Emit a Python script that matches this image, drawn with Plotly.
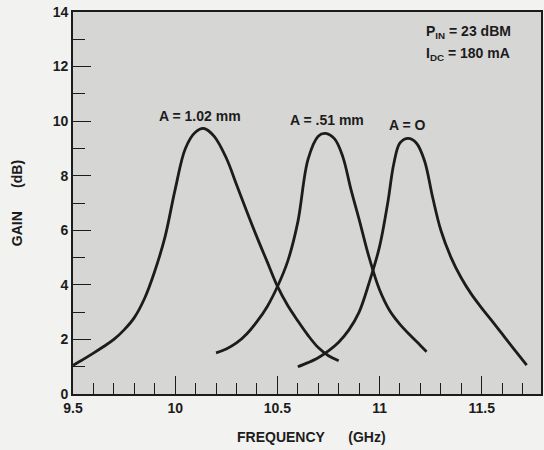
import plotly.graph_objects as go

# ---- data ----
freq_a102 = [9.50, 9.55, 9.60, 9.65, 9.70, 9.75, 9.80, 9.85, 9.90, 9.95, 10.00, 10.05,
             10.10, 10.14, 10.19, 10.25, 10.30, 10.35, 10.40, 10.45, 10.50, 10.55,
             10.60, 10.65, 10.70, 10.75, 10.80]
gain_a102 = [1.05, 1.27, 1.50, 1.74, 2.00, 2.35, 2.80, 3.50, 4.50, 5.75, 7.50, 9.00,
             9.60, 9.73, 9.45, 8.65, 7.68, 6.70, 5.75, 4.85, 3.95, 3.25,
             2.68, 2.15, 1.70, 1.40, 1.22]

freq_a051 = [10.20, 10.25, 10.30, 10.35, 10.40, 10.45, 10.50, 10.55, 10.60, 10.65,
             10.70, 10.735, 10.78, 10.82, 10.86, 10.90, 10.95, 11.00, 11.05, 11.10,
             11.15, 11.20, 11.23]
gain_a051 = [1.51, 1.65, 1.87, 2.20, 2.65, 3.20, 3.93, 4.85, 6.30, 8.60,
             9.45, 9.55, 9.35, 8.70, 7.50, 6.40, 4.98, 3.82, 3.05, 2.55,
             2.15, 1.78, 1.55]

freq_a0 = [10.60, 10.65, 10.70, 10.75, 10.80, 10.85, 10.90, 10.95, 11.00, 11.04,
           11.07, 11.10, 11.14, 11.18, 11.22, 11.26, 11.30, 11.35, 11.40, 11.45,
           11.50, 11.55, 11.60, 11.65, 11.72]
gain_a0 = [1.00, 1.15, 1.33, 1.58, 1.90, 2.35, 3.00, 4.10, 5.40, 7.00,
           8.45, 9.20, 9.37, 9.20, 8.55, 7.20, 6.00, 5.00, 4.25, 3.65,
           3.15, 2.68, 2.20, 1.72, 1.06]

curve_labels = ["A = 1.02 mm", "A = .51 mm", "A = O"]
label_freq = [10.123, 10.743, 11.139]
label_gain = [10.18, 10.04, 9.85]

x_tickvals = [9.5, 10, 10.5, 11, 11.5]
x_ticktext = ["9.5", "10", "10.5", "11", "11.5"]
y_tickvals = [0, 2, 4, 6, 8, 10, 12, 14]

INK = "#1c1c1c"
FONT = "Liberation Sans, Arial, Helvetica, sans-serif"

fig = go.Figure()
for fx, gy in [(freq_a102, gain_a102), (freq_a051, gain_a051), (freq_a0, gain_a0)]:
    fig.add_trace(go.Scatter(x=fx, y=gy, mode="lines",
                             line=dict(color=INK, width=2.8, shape="spline", smoothing=1.0),
                             showlegend=False, hoverinfo="skip"))

for t, fx, gy in zip(curve_labels, label_freq, label_gain):
    fig.add_annotation(x=fx, y=gy, text=t, showarrow=False, xanchor="center", yanchor="middle",
                       font=dict(family=FONT, size=14, color=INK, weight="bold"))

fig.add_annotation(xref="paper", yref="paper", x=(426 - 73) / 470, y=(394 - 32) / 382,
                   text="P<sub>IN</sub> = 23 dBM", showarrow=False, xanchor="left", yanchor="middle",
                   font=dict(family=FONT, size=14, color=INK, weight="bold"))
fig.add_annotation(xref="paper", yref="paper", x=(425 - 73) / 470, y=(394 - 54) / 382,
                   text="I<sub>DC</sub> = 180 mA", showarrow=False, xanchor="left", yanchor="middle",
                   font=dict(family=FONT, size=14, color=INK, weight="bold"))

sp = "\u00a0" * 6
fig.add_annotation(xref="paper", yref="paper", x=(313 - 73) / 470, y=(394 - 437) / 382,
                   text="FREQUENCY" + sp + "(GHz)", showarrow=False, xanchor="center", yanchor="middle",
                   font=dict(family=FONT, size=14, color=INK, weight="bold"))
fig.add_annotation(xref="paper", yref="paper", x=(17 - 73) / 470, y=(394 - 203) / 382,
                   text="GAIN" + sp + "(dB)", showarrow=False, xanchor="center", yanchor="middle",
                   textangle=-90,
                   font=dict(family=FONT, size=14, color=INK, weight="bold"))

fig.update_layout(
    width=544, height=450,
    margin=dict(l=73, r=1, t=12, b=56),
    paper_bgcolor="#f2f2f0",
    plot_bgcolor="#d6d6d5",
    font=dict(family=FONT, size=14, color=INK),
)
fig.update_xaxes(range=[9.5, 11.79], showgrid=False, zeroline=False,
                 showline=True, mirror=True, linecolor=INK, linewidth=1.6,
                 ticks="inside", ticklen=18, tickwidth=1.4, tickcolor=INK,
                 tickvals=x_tickvals, ticktext=x_ticktext,
                 tickfont=dict(family=FONT, size=14, color=INK, weight="bold"),
                 minor=dict(ticks="inside", dtick=0.1, tick0=9.5, ticklen=11, tickwidth=1.4,
                            tickcolor=INK, showgrid=False))
fig.update_yaxes(range=[0, 14], showgrid=False, zeroline=False,
                 showline=True, mirror=True, linecolor=INK, linewidth=1.6,
                 ticks="inside", ticklen=18, tickwidth=1.4, tickcolor=INK,
                 tickvals=y_tickvals,
                 tickfont=dict(family=FONT, size=14, color=INK, weight="bold"),
                 minor=dict(ticks="inside", dtick=1, tick0=0, ticklen=12, tickwidth=1.4,
                            tickcolor=INK, showgrid=False))

fig.write_html("out.html", config={"displayModeBar": False},
               post_script="document.body.style.margin='0';document.body.style.background='#f2f2f0';")
